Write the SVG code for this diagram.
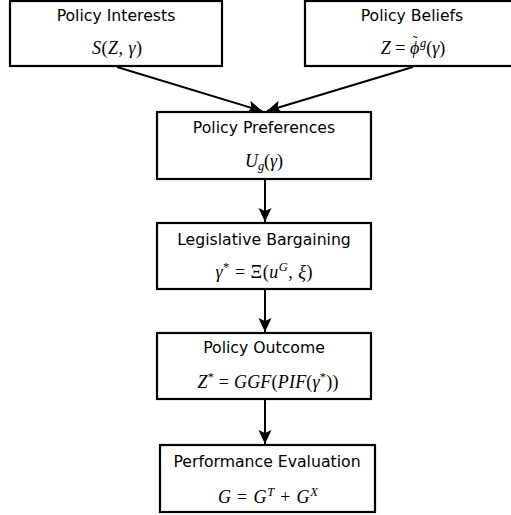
<svg xmlns="http://www.w3.org/2000/svg" width="511" height="515" viewBox="0 0 511 515">
<style>
.box{fill:#fff;stroke:#000;stroke-width:2.2}
.t{font-family:"DejaVu Sans",sans-serif;font-size:15.7px;text-anchor:middle;fill:#000}
.m{font-family:"Liberation Serif","DejaVu Serif",serif;font-size:18px;text-anchor:middle;fill:#000}
.i{font-style:italic}
.s{font-size:12.5px}
.c{fill:none;stroke:#000;stroke-width:2}
</style>
<defs>
<marker id="ah" markerUnits="userSpaceOnUse" markerWidth="16" markerHeight="14" refX="14" refY="6.5" orient="auto">
<path d="M0,0 L14,6.5 L0,13 L3,6.5 z" fill="#000"/>
</marker>
</defs>
<g id="connectors">
<line class="c" x1="117" y1="67" x2="262" y2="111" marker-end="url(#ah)"/>
<line class="c" x1="413" y1="67" x2="267" y2="111" marker-end="url(#ah)"/>
<line class="c" x1="265" y1="179" x2="265" y2="222" marker-end="url(#ah)"/>
<line class="c" x1="265" y1="289" x2="265" y2="332" marker-end="url(#ah)"/>
<line class="c" x1="265" y1="399" x2="265" y2="444" marker-end="url(#ah)"/>
</g>
<g id="n1">
<rect class="box" x="10" y="1" width="212" height="65"/>
<text class="t" x="116" y="21">Policy Interests</text>
<text class="m" x="117" y="54" textLength="50" lengthAdjust="spacing"><tspan class="i">S</tspan>(<tspan class="i">Z</tspan>, <tspan class="i">γ</tspan>)</text>
</g>
<g id="n2">
<rect class="box" x="305" y="1" width="216" height="65"/>
<text class="t" x="412" y="21">Policy Beliefs</text>
<text class="m" x="413" y="54"><tspan class="i">Z</tspan> = <tspan class="i">ϕ</tspan><tspan style="font-size:14px" dx="-6.5" dy="-8.5">˜</tspan><tspan class="i s" dx="2.5" dy="1.5">g</tspan><tspan dy="7">(</tspan><tspan class="i">γ</tspan>)</text>
</g>
<g id="n3">
<rect class="box" x="157" y="112" width="214" height="67"/>
<text class="t" x="264" y="133">Policy Preferences</text>
<text class="m" x="264" y="167" textLength="38" lengthAdjust="spacing"><tspan class="i">U</tspan><tspan class="i s" dy="3">g</tspan><tspan dy="-3">(</tspan><tspan class="i">γ</tspan>)</text>
</g>
<g id="n4">
<rect class="box" x="157" y="223" width="214" height="66"/>
<text class="t" x="264" y="245">Legislative Bargaining</text>
<text class="m" x="264" y="278" textLength="97" lengthAdjust="spacing"><tspan class="i">γ</tspan><tspan class="s" dy="-7">*</tspan><tspan dy="7"> = Ξ(</tspan><tspan class="i">u</tspan><tspan class="i s" dy="-7">G</tspan><tspan dy="7">, </tspan><tspan class="i">ξ</tspan>)</text>
</g>
<g id="n5">
<rect class="box" x="157" y="333" width="214" height="66"/>
<text class="t" x="264" y="353">Policy Outcome</text>
<text class="m" x="268" y="388" textLength="141" lengthAdjust="spacing"><tspan class="i">Z</tspan><tspan class="s" dy="-7">*</tspan><tspan dy="7"> = </tspan><tspan class="i">GGF</tspan>(<tspan class="i">PIF</tspan>(<tspan class="i">γ</tspan><tspan class="s" dy="-7">*</tspan><tspan dy="7">))</tspan></text>
</g>
<g id="n6">
<rect class="box" x="160" y="445" width="215" height="67"/>
<text class="t" x="267" y="467">Performance Evaluation</text>
<text class="m" x="268" y="503" textLength="100" lengthAdjust="spacing"><tspan class="i">G</tspan> = <tspan class="i">G</tspan><tspan class="i s" dy="-7">T</tspan><tspan dy="7"> + </tspan><tspan class="i">G</tspan><tspan class="i s" dy="-7">X</tspan></text>
</g>
</svg>
